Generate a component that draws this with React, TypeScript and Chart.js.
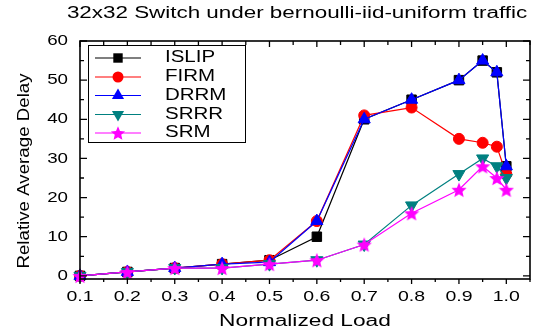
import { useEffect, useRef } from "react";
import { Chart, registerables } from "chart.js";

Chart.register(...registerables);

const loads = [0.1, 0.2, 0.3, 0.4, 0.5, 0.6, 0.7, 0.8, 0.9, 0.95, 0.98, 1.0];
const seriesNames = ["ISLIP", "FIRM", "DRRM", "SRRR", "SRM"];
const islip = [0, 1, 2, 3, 4, 10, 40, 45, 50, 55, 52, 28];
const firm = [0, 1, 2, 3, 4, 14, 41, 43, 35, 34, 33, 26];
const drrm = [0, 1, 2, 3, 3.5, 14, 40, 45, 50, 55, 52, 28];
const srrr = [0, 1, 2, 2, 3, 4, 8, 18, 26, 30, 28, 25];
const srm = [0, 1, 2, 2, 3, 4, 8, 16, 22, 28, 25, 22];
const xTickValues = [0.1, 0.2, 0.3, 0.4, 0.5, 0.6, 0.7, 0.8, 0.9, 1.0];
const xTickLabels = ["0.1", "0.2", "0.3", "0.4", "0.5", "0.6", "0.7", "0.8", "0.9", "1.0"];
const yTickValues = [0, 10, 20, 30, 40, 50, 60];
const yTickLabels = ["0", "10", "20", "30", "40", "50", "60"];
const titleText = "32x32 Switch under bernoulli-iid-uniform traffic";
const xTitle = "Normalized Load";
const yTitle = "Relative Average Delay";

const colors = ["#000000", "#ff0000", "#0000ff", "#008080", "#ff00ff"];
const FONT = "'Liberation Sans', Arial, sans-serif";

function makeStar(color: string, size: number) {
  const c = document.createElement("canvas");
  c.width = size;
  c.height = size;
  const ctx = c.getContext("2d")!;
  drawStar(ctx, size / 2, size / 2 + 0.8, size / 2, color);
  return c;
}

function drawStar(ctx: CanvasRenderingContext2D, cx: number, cy: number, R: number, color: string) {
  const r = R * 0.45;
  ctx.beginPath();
  for (let i = 0; i < 10; i++) {
    const a = -Math.PI / 2 + (i * Math.PI) / 5;
    const rad = i % 2 === 0 ? R : r;
    ctx.lineTo(cx + rad * Math.cos(a), cy + rad * Math.sin(a));
  }
  ctx.closePath();
  ctx.fillStyle = color;
  ctx.fill();
}

function drawMarker(ctx: CanvasRenderingContext2D, i: number, x: number, y: number) {
  const color = colors[i];
  ctx.save();
  ctx.fillStyle = color;
  ctx.strokeStyle = color;
  ctx.beginPath();
  if (i === 0) {
    ctx.rect(x - 4.7, y - 4.7, 9.4, 9.4);
  } else if (i === 1) {
    ctx.arc(x, y, 5.5, 0, Math.PI * 2);
  } else if (i === 2) {
    const r = 7;
    ctx.moveTo(x, y - r);
    ctx.lineTo(x + r * Math.sin((2 * Math.PI) / 3), y - r * Math.cos((2 * Math.PI) / 3));
    ctx.lineTo(x + r * Math.sin((4 * Math.PI) / 3), y - r * Math.cos((4 * Math.PI) / 3));
    ctx.closePath();
  } else if (i === 3) {
    const r = 7;
    ctx.moveTo(x, y + r);
    ctx.lineTo(x + r * Math.sin((2 * Math.PI) / 3), y + r * Math.cos((2 * Math.PI) / 3));
    ctx.lineTo(x + r * Math.sin((4 * Math.PI) / 3), y + r * Math.cos((4 * Math.PI) / 3));
    ctx.closePath();
  }
  if (i === 4) {
    drawStar(ctx, x, y + 0.8, 7.5, color);
  } else {
    ctx.fill();
  }
  ctx.restore();
}

function stretchedText(
  ctx: CanvasRenderingContext2D,
  text: string,
  x: number,
  y: number,
  size: number,
  sx: number,
  align: CanvasTextAlign,
  rotate = 0
) {
  ctx.save();
  ctx.translate(x, y);
  if (rotate) ctx.rotate(rotate);
  ctx.scale(sx, 1);
  ctx.font = `${size}px ${FONT}`;
  ctx.fillStyle = "#000";
  ctx.textAlign = align;
  ctx.textBaseline = "middle";
  ctx.fillText(text, 0, 0);
  ctx.restore();
}

const framePlugin = {
  id: "framePlugin",
  afterDraw(chart: any) {
    const ctx: CanvasRenderingContext2D = chart.ctx;
    const { left, right, top, bottom } = chart.chartArea;
    const xs = chart.scales.x;
    const ys = chart.scales.y;
    ctx.save();
    ctx.strokeStyle = "#000";
    ctx.lineWidth = 1.6;
    ctx.strokeRect(left, top, right - left, bottom - top);
    ctx.lineWidth = 1.3;
    ctx.beginPath();
    // x ticks every 0.05
    for (let k = 0; k <= 19; k++) {
      const v = 0.1 + k * 0.05;
      const px = xs.getPixelForValue(v);
      const major = k % 2 === 0;
      // bottom outward
      ctx.moveTo(px, bottom);
      ctx.lineTo(px, bottom + (major ? 5 : 3));
      // top inward
      ctx.moveTo(px, top);
      ctx.lineTo(px, top + (major ? 6 : 4));
    }
    // y ticks every 5
    for (let v = 0; v <= 60; v += 5) {
      const py = ys.getPixelForValue(v);
      const major = v % 10 === 0;
      ctx.moveTo(left, py);
      ctx.lineTo(left + (major ? 7 : 4), py);
      ctx.moveTo(right, py);
      ctx.lineTo(right - (major ? 7 : 4), py);
    }
    ctx.stroke();

    // tick labels
    xTickValues.forEach((v, i) => {
      stretchedText(ctx, xTickLabels[i], xs.getPixelForValue(v), bottom + 18, 15, 1.3, "center");
    });
    yTickValues.forEach((v, i) => {
      stretchedText(ctx, yTickLabels[i], left - 12, ys.getPixelForValue(v), 15, 1.25, "right");
    });

    // titles
    stretchedText(ctx, titleText, 297, 14, 16, 1.4, "center");
    stretchedText(ctx, xTitle, 305, 322, 16, 1.42, "center");
    stretchedText(ctx, yTitle, 24, 171, 17, 1.1, "center", -Math.PI / 2);

    // legend
    const lx0 = 88, ly0 = 45, lx1 = 245, ly1 = 142;
    ctx.fillStyle = "#fff";
    ctx.fillRect(lx0, ly0, lx1 - lx0, ly1 - ly0);
    ctx.lineWidth = 1;
    ctx.strokeStyle = "#000";
    ctx.strokeRect(lx0 + 0.5, ly0 + 0.5, lx1 - lx0, ly1 - ly0);
    const rowY = [58, 77, 95.5, 114.5, 133];
    seriesNames.forEach((name, i) => {
      const y = rowY[i];
      ctx.strokeStyle = colors[i];
      ctx.lineWidth = 1.2;
      ctx.beginPath();
      ctx.moveTo(95, y);
      ctx.lineTo(141, y);
      ctx.stroke();
      drawMarker(ctx, i, 118, y);
      stretchedText(ctx, name, 165, y, 16, 1.28, "left");
    });
    ctx.restore();
  },
};

export default function App() {
  const ref = useRef<HTMLCanvasElement | null>(null);
  useEffect(() => {
    document.body.style.margin = "0";
    const canvas = ref.current!;
    const star = makeStar(colors[4], 16);
    const seriesValues = [islip, firm, drrm, srrr, srm];
    const styles: any[] = [
      { pointStyle: "rect", pointRadius: 6.7, rotation: 0 },
      { pointStyle: "circle", pointRadius: 5.5, rotation: 0 },
      { pointStyle: "triangle", pointRadius: 7, rotation: 0 },
      { pointStyle: "triangle", pointRadius: 7, rotation: 180 },
      { pointStyle: star, pointRadius: 8, rotation: 0 },
    ];
    const chart = new Chart(canvas, {
      type: "line",
      data: {
        datasets: seriesNames.map((name, i) => ({
          label: name,
          data: loads.map((x, j) => ({ x, y: seriesValues[i][j] })),
          borderColor: colors[i],
          backgroundColor: colors[i],
          pointBackgroundColor: colors[i],
          pointBorderColor: colors[i],
          pointBorderWidth: 1,
          borderWidth: 1.2,
          pointStyle: styles[i].pointStyle,
          pointRadius: styles[i].pointRadius,
          pointRotation: styles[i].rotation,
          tension: 0,
          clip: false as any,
          order: 5 - i,
        })),
      },
      options: {
        animation: false,
        responsive: false,
        maintainAspectRatio: false,
        layout: { padding: { left: 80, top: 41, right: 25, bottom: 53 } },
        plugins: {
          legend: { display: false },
          tooltip: { enabled: false },
          title: { display: false },
        },
        scales: {
          x: { type: "linear", min: 0.1, max: 1.05, display: false },
          y: { type: "linear", min: -0.8, max: 60, display: false },
        },
      },
      plugins: [framePlugin],
    });
    return () => chart.destroy();
  }, []);
  return <canvas ref={ref} width={555} height={332} style={{ display: "block" }} />;
}
